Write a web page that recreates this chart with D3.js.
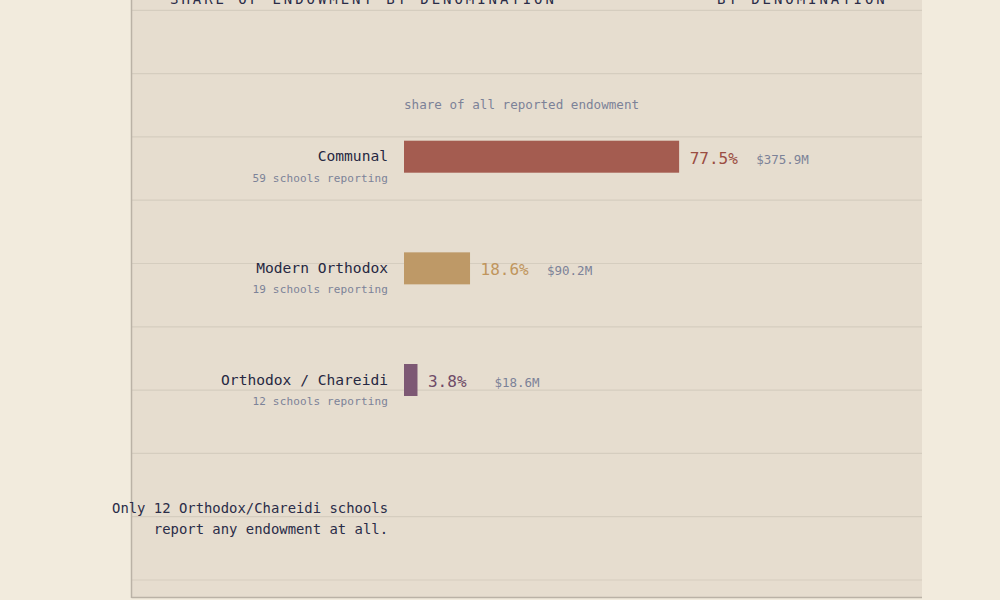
<!DOCTYPE html>
<html>
<head>
<meta charset="utf-8">
<script src="https://cdn.jsdelivr.net/npm/d3@7/dist/d3.min.js"></script>
<style>
  html, body { margin: 0; padding: 0; background: #f2ebdd; }
  svg { display: block; }
  text { font-family: "DejaVu Sans Mono", "Liberation Mono", monospace; }
</style>
</head>
<body>
<svg id="chart" width="1000" height="600"></svg>
<script>
// ---- data ----
const categories = ["Communal", "Modern Orthodox", "Orthodox / Chareidi"];
const sharePct   = [77.5, 18.6, 3.8];
const dollarsM   = [375.9, 90.2, 18.6];
const schoolsReporting = [59, 19, 12];
const barColors  = ["#a45c50", "#be9967", "#7d5874"];
const pctColors  = ["#9b4d42", "#c0955d", "#6f4b67"];
const titleText  = "SHARE OF ENDOWMENT BY DENOMINATION";
const titleRight = "BY DENOMINATION";
const subtitle   = "share of all reported endowment";
const noteLines  = ["Only 12 Orthodox/Chareidi schools", "report any endowment at all."];

const svg = d3.select("#chart");

// panel
const panel = { x0: 131.5, x1: 922, y0: -5, y1: 598 };
svg.append("rect")
  .attr("x", panel.x0).attr("y", panel.y0)
  .attr("width", panel.x1 - panel.x0).attr("height", panel.y1 - panel.y0)
  .attr("fill", "#e6ddcf");

// ruled lines
const ruleY = d3.scaleLinear().domain([0, 1]).range([10.3, 73.6]);
svg.append("g").selectAll("line")
  .data(d3.range(0, 10))
  .join("line")
  .attr("x1", panel.x0).attr("x2", panel.x1)
  .attr("y1", d => ruleY(d)).attr("y2", d => ruleY(d))
  .attr("stroke", "#d5cdbf").attr("stroke-width", 1.2);

// panel borders
svg.append("line").attr("x1", panel.x0).attr("x2", panel.x0)
  .attr("y1", panel.y0).attr("y2", panel.y1)
  .attr("stroke", "#bab2a6").attr("stroke-width", 1.5);
svg.append("line").attr("x1", panel.x0).attr("x2", panel.x1)
  .attr("y1", panel.y1 - 0.5).attr("y2", panel.y1 - 0.5)
  .attr("stroke", "#bab2a6").attr("stroke-width", 1.5);

// title (cut at top, as in the reference)
svg.append("text")
  .attr("x", 170).attr("y", 3.5)
  .attr("font-size", 14).attr("letter-spacing", "2.95px")
  .attr("fill", "#2a2c48")
  .text(titleText);
svg.append("text")
  .attr("x", 717).attr("y", 3.5)
  .attr("font-size", 14).attr("letter-spacing", "2.95px")
  .attr("fill", "#2a2c48")
  .text(titleRight);

// scales
const x = d3.scaleLinear().domain([0, 100]).range([404, 759]);
const y = d3.scalePoint().domain(categories).range([156.7, 380]);
const barH = 32;

// subtitle
svg.append("text")
  .attr("x", x(0)).attr("y", 109)
  .attr("font-size", 12.6).attr("fill", "#7c8298")
  .text(subtitle);

const rows = categories.map((c, i) => ({
  cat: c, pct: sharePct[i], usd: dollarsM[i], n: schoolsReporting[i],
  color: barColors[i], pcolor: pctColors[i]
}));

const g = svg.append("g").selectAll("g").data(rows).join("g");

g.append("rect")
  .attr("x", x(0))
  .attr("y", d => y(d.cat) - barH / 2)
  .attr("width", d => x(d.pct) - x(0))
  .attr("height", barH)
  .attr("fill", d => d.color);

g.append("text")
  .attr("x", 388).attr("y", d => y(d.cat) + 4.5)
  .attr("text-anchor", "end")
  .attr("font-size", 14.6).attr("fill", "#262842")
  .text(d => d.cat);

g.append("text")
  .attr("x", 388).attr("y", d => y(d.cat) + 25)
  .attr("text-anchor", "end")
  .attr("font-size", 11).attr("letter-spacing", "0.15px")
  .attr("fill", "#7c8298")
  .text(d => d.n + " schools reporting");

g.append("text")
  .attr("x", d => x(d.pct) + 10.5).attr("y", d => y(d.cat) + 7)
  .attr("font-size", 16).attr("fill", d => d.pcolor)
  .text(d => d.pct.toFixed(1) + "%");

g.append("text")
  .attr("x", d => x(d.pct) + 10.5 + 66.5)
  .attr("y", d => y(d.cat) + 7)
  .attr("font-size", 12.5).attr("fill", "#7c8298")
  .text(d => "$" + d.usd.toFixed(1) + "M");

// annotation
svg.append("text")
  .attr("text-anchor", "end")
  .attr("font-size", 13.9).attr("fill", "#2a2c48")
  .selectAll("tspan").data(noteLines).join("tspan")
  .attr("x", 388)
  .attr("y", (d, i) => 513 + i * 21.3)
  .text(d => d);
</script>
</body>
</html>
